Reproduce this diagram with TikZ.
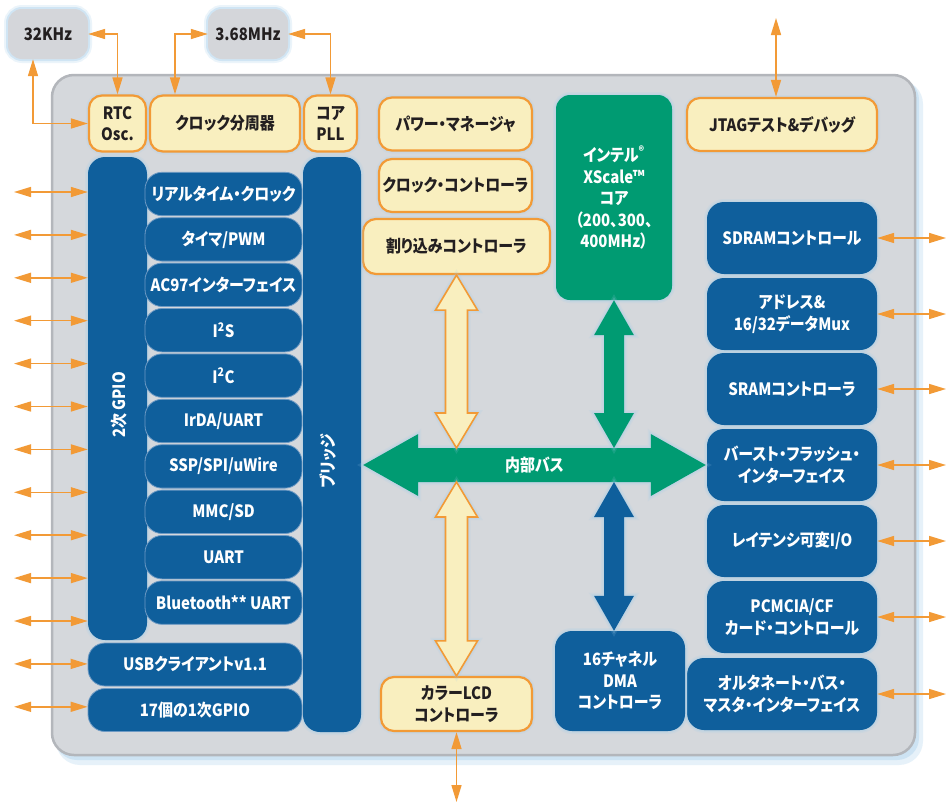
\documentclass[tikz,border=0pt]{standalone}
\usepackage{fontspec}
\setmainfont{Noto Sans CJK JP}[RawFeature=+palt, FakeStretch=0.88]
\usetikzlibrary{arrows.meta,calc}

\definecolor{cblue}{HTML}{0F5F9C}
\definecolor{cgreen}{HTML}{009B72}
\definecolor{cyel}{HTML}{F9EFBF}
\definecolor{corange}{HTML}{F29A36}
\definecolor{cgray}{HTML}{D4D6DA}
\definecolor{cpanel}{HTML}{D5D8DC}
\definecolor{cpanelline}{HTML}{B3B6BB}
\definecolor{cglow}{HTML}{9FCBEA}
\definecolor{csep}{HTML}{6E9AC4}
\definecolor{ctext}{HTML}{231F20}

\newcommand\vfat[6]{%
 \path[#1] let \p1=(#2), \p2=(#3) in
  (\x1,\y1) -- (\x1+#5pt,\y1-#6pt) -- (\x1+#4pt,\y1-#6pt) -- (\x1+#4pt,\y2+#6pt) -- (\x1+#5pt,\y2+#6pt) -- (\x1,\y2) -- (\x1-#5pt,\y2+#6pt) -- (\x1-#4pt,\y2+#6pt) -- (\x1-#4pt,\y1-#6pt) -- (\x1-#5pt,\y1-#6pt) -- cycle;}
\newcommand\hfat[6]{%
 \path[#1] let \p1=(#2), \p2=(#3) in
  (\x1,\y1) -- (\x1+#6pt,\y1+#5pt) -- (\x1+#6pt,\y1+#4pt) -- (\x2-#6pt,\y1+#4pt) -- (\x2-#6pt,\y1+#5pt) -- (\x2,\y1) -- (\x2-#6pt,\y1-#5pt) -- (\x2-#6pt,\y1-#4pt) -- (\x1+#6pt,\y1-#4pt) -- (\x1+#6pt,\y1-#5pt) -- cycle;}

\tikzset{
 base/.style={inner sep=0pt, align=center, font=\fontsize{17}{21.5}\selectfont\bfseries},
 halo/.style={preaction={draw=cglow, line width=8pt, opacity=0.2}, preaction={draw=cglow, line width=4pt, opacity=0.35}},
 softhalo/.style={preaction={draw=cglow, line width=6pt, opacity=0.15}, preaction={draw=cglow, line width=3pt, opacity=0.25}},
 graybox/.style={base, halo, fill=cgray, rounded corners=14pt, text=ctext},
 ybox/.style={base, softhalo, fill=cyel, draw=corange, line width=2.2pt, rounded corners=13pt, text=ctext},
 bbox/.style={base, fill=cblue, text=white, rounded corners=17pt},
 gbox/.style={base, softhalo, fill=cgreen, text=white, rounded corners=14pt},
 listb/.style={draw=csep, line width=0.8pt},
 sz/.style 2 args={minimum width=#1pt, minimum height=#2pt},
 oarrow/.style={draw=corange, line width=1.5pt, {Triangle[length=17pt,width=10pt]}-{Triangle[length=17pt,width=10pt]}},
}

\begin{document}
\begin{tikzpicture}[x=1pt,y=-1pt]
\fill[white] (0,0) rectangle (947,806);
\useasboundingbox (0,0) rectangle (947,806);

% main panel
\fill[cglow, opacity=0.25, rounded corners=24pt] (56,80) rectangle (923,765);
\fill[cglow, opacity=0.35, rounded corners=22pt] (55,78) rectangle (919,760);
\draw[cpanelline, fill=cpanel, line width=2.5pt, rounded corners=22pt] (52,75) rectangle (915,755);

% clock sources
\node[graybox, sz={80}{50}] (k32) at (48,34) {32KHz};
\node[graybox, sz={80}{50}] (m368) at (248,34) {3.68MHz};

% top row left
\node[ybox, sz={57}{56}] (rtc) at (117.5,123.5) {RTC\\Osc.};
\node[ybox, sz={150}{56}] (cdiv) at (225,123.5) {クロック分周器};
\node[ybox, sz={53}{56}] (pll) at (330.5,123.5) {コア\\PLL};

% middle column
\node[ybox, sz={153}{53}] (pwr) at (455.5,124) {パワー・マネージャ};
\node[ybox, sz={153}{53}] (clkc) at (455.5,185.5) {クロック・コントローラ};
\node[ybox, sz={187}{55}] (irq) at (456.5,246.5) {割り込みコントローラ};
\node[gbox, sz={116}{205}] (core) at (614,197.5) {インテル\textsuperscript{®}\\XScale™\\コア\\（200、300、\\400MHz）};
\node[ybox, sz={190}{53}] (jtag) at (782,124.5) {JTAGテスト\&デバッグ};

% right column
\node[bbox, softhalo, sz={170}{72}] (sdram) at (792,238) {SDRAMコントロール};
\node[bbox, softhalo, sz={170}{72}] (adrs) at (792,314) {アドレス\&\\16/32データMux};
\node[bbox, softhalo, sz={170}{72}] (sram) at (792,389) {SRAMコントローラ};
\node[bbox, softhalo, sz={170}{72}] (burst) at (792,465) {バースト・フラッシュ・\\インターフェイス};
\node[bbox, softhalo, sz={170}{72}] (lat) at (792,541) {レイテンシ可変I/O};
\node[bbox, softhalo, sz={170}{72}] (pcm) at (792,617) {PCMCIA/CF\\カード・コントロール};
\node[bbox, softhalo, sz={190}{72}] (alt) at (782,694) {オルタネート・バス・\\マスタ・インターフェイス};
\node[bbox, softhalo, sz={130}{100}] (dma) at (620,681) {16チャネル\\DMA\\コントローラ};
\node[ybox, sz={151}{54}] (lcd) at (456.5,704) {カラーLCD\\コントローラ};

% left block
\node[bbox, softhalo, sz={59}{483}] (gpio) at (117.5,398.5) {};
\node[bbox, softhalo, sz={58}{575}] (bridge) at (332,444.5) {};
\node[base, text=white, rotate=90] (gpiol) at (119,405) {2次 GPIO};
\node[base, text=white, rotate=90] (bridgel) at (328,461) {ブリッジ};
\foreach \t [count=\i from 0] in {リアルタイム・クロック, タイマ/PWM, AC97インターフェイス, I\textsuperscript{2}S, I\textsuperscript{2}C, IrDA/UART, SSP/SPI/uWire, MMC/SD, UART, Bluetooth** UART}
  \node[bbox, listb, sz={157}{43.4}] (li\i) at (223.5,{194+45.4*\i}) {\t};
\node[bbox, listb, sz={214}{43}] (usb) at (195,664.5) {USBクライアントv1.1};
\node[bbox, listb, sz={214}{43}] (g17) at (195,710) {17個の1次GPIO};

% internal bus and fat arrows
\coordinate (busy) at (0,465);
\coordinate (busT) at (0,448);
\coordinate (busB) at (0,482);
\coordinate (busL) at ($(bridge.east |- busy)+(2,0)$);
\coordinate (busR) at ($(burst.west |- busy)+(-1,0)$);
\hfat{fill=cgreen, softhalo}{busL}{busR}{17}{31}{55}
\node[base, text=white] (busl) at ($(busL)!0.5!(busR)$) {内部バス};
\vfat{fill=cyel, draw=corange, line width=1.6pt, softhalo}{irq.south}{irq.south |- busT}{11}{21}{35}
\vfat{fill=cyel, draw=corange, line width=1.6pt, softhalo}{lcd.north |- busB}{lcd.north}{11}{21}{35}
\vfat{fill=cgreen, softhalo}{core.south}{core.south |- busT}{10}{20}{35}
\vfat{fill=cblue, softhalo}{core.south |- busB}{core.south |- dma.north}{10}{20}{35}

% thin orange connectors
\draw[oarrow] (k32.east) -| (rtc.north);
\draw[oarrow] ([xshift=-15pt]k32.south) |- (rtc.west);
\draw[oarrow] (m368.west) -| ([xshift=-50pt]cdiv.north);
\draw[oarrow] (m368.east) -| (pll.north);
\coordinate (jtagout) at (776,18);
\draw[oarrow] (jtagout) -- (jtagout |- jtag.north);
\coordinate (lcdout) at (456.5,802);
\draw[oarrow] (lcd.south) -- (lcdout);

\foreach \i in {0,...,10} {
  \coordinate (la\i) at (14,{192+42.9*\i});
  \draw[oarrow] (la\i) -- (la\i -| gpio.west);
}
\coordinate (la11) at (14,663.9);
\draw[oarrow] (la11) -- (la11 -| usb.west);
\coordinate (la12) at (14,706.8);
\draw[oarrow] (la12) -- (la12 -| g17.west);

\coordinate (redge) at (946,0);
\draw[oarrow] (sdram.east) -- (sdram.east -| redge);
\draw[oarrow] (adrs.east) -- (adrs.east -| redge);
\draw[oarrow] (sram.east) -- (sram.east -| redge);
\draw[oarrow] (burst.east) -- (burst.east -| redge);
\draw[oarrow] (lat.east) -- (lat.east -| redge);
\draw[oarrow] (pcm.east) -- (pcm.east -| redge);
\draw[oarrow] (alt.east) -- (alt.east -| redge);
\end{tikzpicture}
\end{document}
